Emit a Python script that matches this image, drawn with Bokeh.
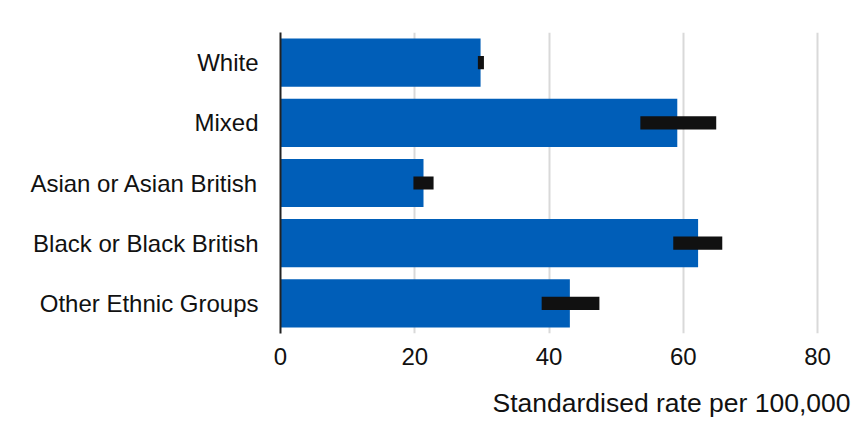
from bokeh.plotting import figure
from bokeh.models import Range1d, FactorRange, FixedTicker, Title, ColumnDataSource
from bokeh.embed import file_html
from bokeh.resources import INLINE

categories = ["White", "Mixed", "Asian or Asian British", "Black or Black British", "Other Ethnic Groups"]
rates = [29.8, 59.1, 21.3, 62.2, 43.1]
ci_low = [29.4, 53.6, 19.8, 58.5, 38.9]
ci_high = [30.3, 64.9, 22.8, 65.8, 47.5]
x_ticks = [0, 20, 40, 60, 80]
x_title = "Standardised rate per 100,000"

FONT = "Liberation Sans"

src = ColumnDataSource(dict(cat=categories, rate=rates, lo=ci_low, hi=ci_high))

p = figure(
    width=856, height=440,
    y_range=FactorRange(factors=list(reversed(categories)), range_padding=0),
    x_range=Range1d(0, 84.9),
    output_backend="svg", toolbar_location=None,
    min_border_left=280, min_border_right=6, min_border_top=32, min_border_bottom=107,
)
p.outline_line_color = None
p.background_fill_color = "white"
p.border_fill_color = "white"

p.hbar(y="cat", left=0, right="rate", height=0.8, source=src,
       fill_color="#005EB8", line_color=None)
p.hbar(y="cat", left="lo", right="hi", height=0.22, source=src,
       fill_color="#111111", line_color=None)

# x axis
p.xaxis.ticker = FixedTicker(ticks=x_ticks)
p.xaxis.axis_line_color = None
p.xaxis.major_tick_line_color = None
p.xaxis.minor_tick_line_color = None
p.xaxis.major_label_text_font = FONT
p.xaxis.major_label_text_font_size = "24px"
p.xaxis.major_label_text_color = "#111111"
p.xaxis.major_label_standoff = 8

# y axis
p.yaxis.axis_line_color = "#222222"
p.yaxis.axis_line_width = 2
p.yaxis.major_tick_line_color = None
p.yaxis.minor_tick_line_color = None
p.yaxis.major_label_text_font = FONT
p.yaxis.major_label_text_font_size = "24px"
p.yaxis.major_label_text_color = "#111111"
p.yaxis.major_label_standoff = 16

p.xgrid.grid_line_color = "#d9d9d9"
p.xgrid.grid_line_width = 2
p.xgrid.ticker = FixedTicker(ticks=x_ticks)
p.ygrid.grid_line_color = None

t = Title(text=x_title, align="right", text_font=FONT, text_font_size="26.5px",
          text_font_style="normal", text_color="#111111", standoff=37)
p.add_layout(t, "below")

open("out.html", "w").write(file_html(p, INLINE))
